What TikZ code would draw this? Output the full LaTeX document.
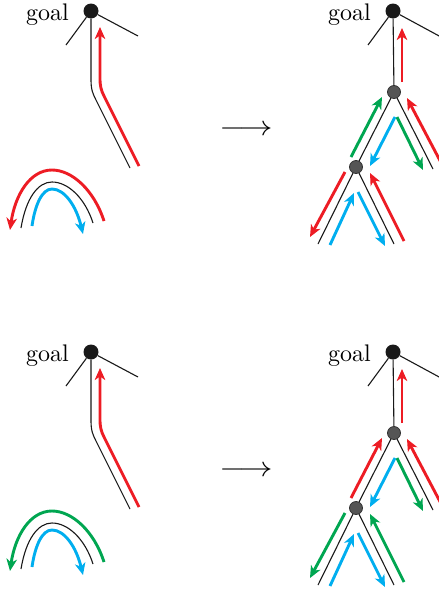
\documentclass[tikz,border=0pt]{standalone}
\usepackage{graphicx}
\usetikzlibrary{arrows.meta,calc}
\definecolor{cred}{RGB}{237,28,36}
\definecolor{cgreen}{RGB}{0,166,81}
\definecolor{cblue}{RGB}{0,174,239}
\definecolor{cnode}{RGB}{85,85,85}
\tikzset{
  edge/.style={line width=1.1pt, black!90},
  flow/.style={line width=2.9pt, -{Stealth[length=12pt,width=10.5pt,inset=3.5pt]}},
  goalnode/.style={circle, fill=black!90, inner sep=0pt, minimum size=15pt},
  midnode/.style={circle, fill=cnode, draw=black!80, line width=0.8pt, inner sep=0pt, minimum size=13pt},
  lbl/.style={inner sep=0pt},
}
\newcommand{\goaltext}{\scalebox{2.4}{goal}}
\newcommand{\bigarrow}{\scalebox{3.3}[2.8]{$\longrightarrow$}}
\newcommand{\leftpanel}[2]{%
  \node[goalnode] (#1g) at (91,11) {};
  \node[lbl, anchor=base east] (#1t) at (69,20) {\goaltext};
  \coordinate (#1a) at (66,45);
  \coordinate (#1b) at (138,36);
  \coordinate (#1c) at (130,168);
  \draw[edge] (#1g) -- (#1a);
  \draw[edge] (#1g) -- (#1b);
  \draw[edge] (#1g) -- (91,80) .. controls (91,90) and (93,94) .. (96,100) -- (#1c);
  \draw[flow, cred] (139,166) -- (104,96) .. controls (101,90) and (100,86) .. (100,78) -- (100,27);
  \draw[edge] (21,228) .. controls (26,198) and (38,182) .. (52,182)
              .. controls (68,182) and (85,198) .. (93,223);
  \draw[flow, #2] (104,221) .. controls (94,190) and (72,170) .. (52,170)
              .. controls (30,170) and (15,195) .. (10,230);
  \draw[flow, cblue] (32,226) .. controls (35,205) and (42,189) .. (52,189)
              .. controls (64,189) and (76,205) .. (83,234);
}
\newcommand{\rightpanel}[9]{%
  \node[goalnode] (#1g) at (393,11) {};
  \node[lbl, anchor=base east] (#1t) at (371,20) {\goaltext};
  \node[midnode] (#1m) at (394,92) {};
  \node[midnode] (#1n) at (356,167) {};
  \coordinate (#1a) at (368,45);
  \coordinate (#1b) at (441,37);
  \coordinate (#1r) at (433,169);
  \coordinate (#1p) at (318,244);
  \coordinate (#1q) at (394,244);
  \draw[edge] (#1g) -- (#1a);
  \draw[edge] (#1g) -- (#1b);
  \draw[edge] (#1g) -- (#1m);
  \draw[edge] (#1m) -- (#1n);
  \draw[edge] (#1m) -- (#1r);
  \draw[edge] (#1n) -- (#1p);
  \draw[edge] (#1n) -- (#1q);
  \draw[flow, cred] (402,82) -- (402,28);
  \draw[flow, #2] (351,157) -- (382,97);
  \draw[flow, #3] (395,117) -- (370,166);
  \draw[flow, #4] (397,117) -- (423,170);
  \draw[flow, #5] (446,172) -- (407,98);
  \draw[flow, #6] (345,172) -- (310,237);
  \draw[flow, #7] (330,245) -- (354,193);
  \draw[flow, #8] (358,192) -- (385,246);
  \draw[flow, #9] (404,241) -- (370,173);
}
\begin{document}
\begin{tikzpicture}[x=1pt, y=-1pt]
  \useasboundingbox (0,0) rectangle (439,592);
  \leftpanel{A}{cred}
  \node[inner sep=0pt] (arrA) at (246,130) {\bigarrow};
  \rightpanel{B}{cgreen}{cblue}{cgreen}{cred}{cred}{cblue}{cblue}{cred}
  \begin{scope}[shift={(0,341)}]
    \leftpanel{C}{cgreen}
    \node[inner sep=0pt] (arrC) at (246,130) {\bigarrow};
    \rightpanel{D}{cred}{cblue}{cgreen}{cred}{cgreen}{cblue}{cblue}{cgreen}
  \end{scope}
\end{tikzpicture}
\end{document}
